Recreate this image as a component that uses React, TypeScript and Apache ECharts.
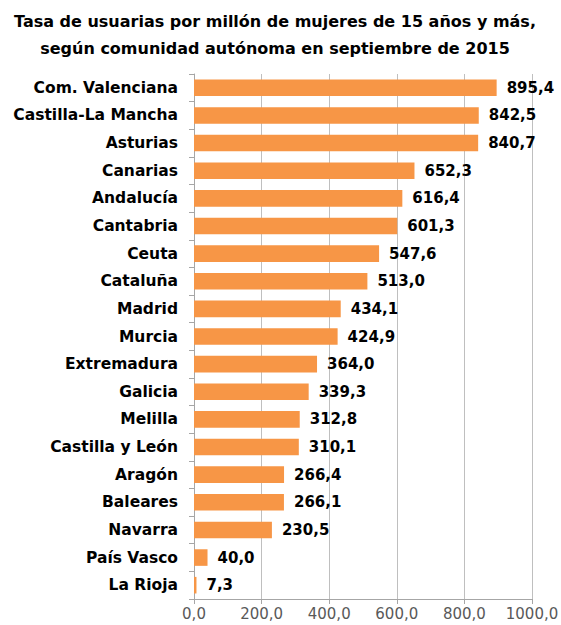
import React, { useEffect, useRef } from "react";
import * as echarts from "echarts";

const titleLines = [
  "Tasa de usuarias por millón de mujeres de 15 años y más,",
  "según comunidad autónoma en septiembre de 2015",
];
const regions = [
  "Com. Valenciana",
  "Castilla-La Mancha",
  "Asturias",
  "Canarias",
  "Andalucía",
  "Cantabria",
  "Ceuta",
  "Cataluña",
  "Madrid",
  "Murcia",
  "Extremadura",
  "Galicia",
  "Melilla",
  "Castilla y León",
  "Aragón",
  "Baleares",
  "Navarra",
  "País Vasco",
  "La Rioja",
];
const rates = [
  895.4, 842.5, 840.7, 652.3, 616.4, 601.3, 547.6, 513.0, 434.1, 424.9, 364.0,
  339.3, 312.8, 310.1, 266.4, 266.1, 230.5, 40.0, 7.3,
];
const axisMin = 0;
const axisMax = 1000;
const axisStep = 200;

const fmt = (v: number) => v.toFixed(1).replace(".", ",");
const FONT = "'DejaVu Sans', sans-serif";

export default function App() {
  const ref = useRef<HTMLDivElement>(null);
  useEffect(() => {
    if (!ref.current) return;
    const chart = echarts.init(ref.current, null, { renderer: "svg" });
    chart.setOption({
      animation: false,
      backgroundColor: "#ffffff",
      title: {
        text: titleLines.join("\n"),
        left: 270,
        textAlign: "center",
        top: 3,
        textStyle: {
          fontFamily: FONT,
          fontWeight: "bold",
          fontSize: 16,
          lineHeight: 27,
          color: "#000000",
        },
      },
      grid: {
        left: 194,
        right: 29,
        top: 74,
        bottom: 26,
        containLabel: false,
        outerBoundsMode: "none",
      },
      xAxis: {
        type: "value",
        min: axisMin,
        max: axisMax,
        interval: axisStep,
        axisLine: { show: true, lineStyle: { color: "#a6a6a6" } },
        axisTick: { show: true, length: 5, lineStyle: { color: "#a6a6a6" } },
        splitLine: { show: true, lineStyle: { color: "#bfbfbf", width: 1 } },
        axisLabel: {
          formatter: (v: number) => fmt(v),
          fontFamily: FONT,
          fontSize: 15,
          color: "#595959",
          margin: 7,
          showMaxLabel: true,
        },
      },
      yAxis: {
        type: "category",
        data: regions,
        inverse: true,
        axisLine: { show: true, lineStyle: { color: "#a6a6a6" } },
        axisTick: { show: true, length: 5, lineStyle: { color: "#a6a6a6" } },
        axisLabel: {
          fontFamily: FONT,
          fontWeight: "bold",
          fontSize: 15.5,
          color: "#000000",
          margin: 16,
        },
      },
      series: [
        {
          type: "bar",
          data: rates,
          barCategoryGap: "40%",
          itemStyle: { color: "#F79646" },
          label: {
            show: true,
            position: "right",
            distance: 10,
            formatter: (p: any) => fmt(p.value),
            fontFamily: FONT,
            fontWeight: "bold",
            fontSize: 15,
            color: "#000000",
          },
        },
      ],
    });
    return () => chart.dispose();
  }, []);
  return <div ref={ref} style={{ width: 561, height: 625, position: "absolute", left: 0, top: 0 }} />;
}
